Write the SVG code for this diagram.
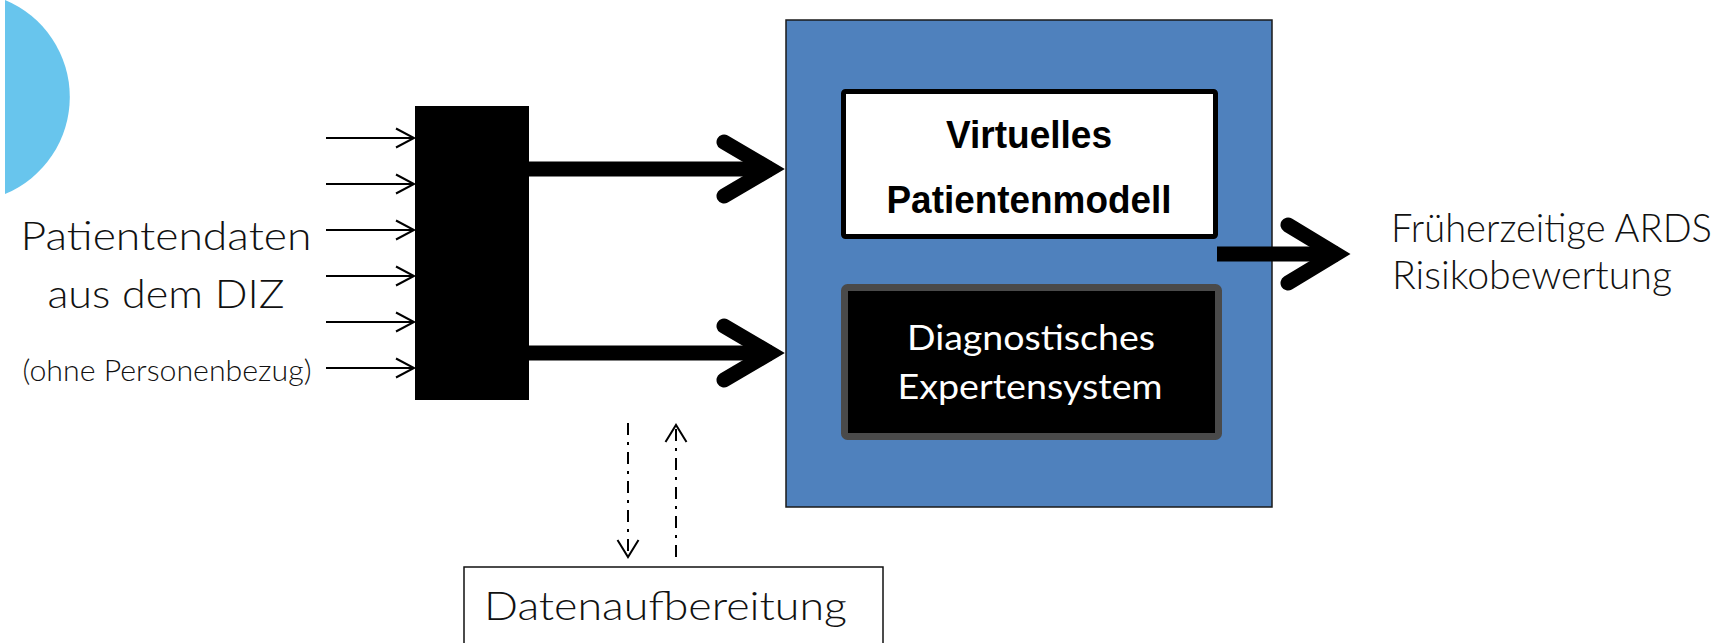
<svg xmlns="http://www.w3.org/2000/svg" width="1732" height="643" viewBox="0 0 1732 643">
<defs>
<style>
.light{font-family:Lato,"Open Sans","Liberation Sans",sans-serif;font-weight:300;fill:#111}
.reg{font-family:Lato,"Open Sans","Liberation Sans",sans-serif;font-weight:400;fill:#fff}
.bold{font-family:"Liberation Sans",Arial,sans-serif;font-weight:700;fill:#000}
.thin{stroke:#000;stroke-width:2;fill:none}
.thick{stroke:#000;stroke-width:15;fill:none}
.chev{stroke:#000;stroke-width:15;fill:none;stroke-linecap:round;stroke-linejoin:miter;stroke-miterlimit:6}
.dash{stroke:#000;stroke-width:2;fill:none;stroke-dasharray:12 7 3 7}
</style>
<marker id="open" markerUnits="userSpaceOnUse" markerWidth="24" markerHeight="24" viewBox="-20 -12 24 24" refX="0" refY="0" orient="auto">
<path d="M -18 -9.5 L 0 0 L -18 9.5" fill="none" stroke="#000" stroke-width="2"/>
</marker>
<marker id="open2" markerUnits="userSpaceOnUse" markerWidth="24" markerHeight="26" viewBox="-20 -13 24 26" refX="0" refY="0" orient="auto">
<path d="M -17 -10.5 L 0 0 L -17 10.5" fill="none" stroke="#000" stroke-width="2"/>
</marker>
</defs>
<rect width="1732" height="643" fill="#fff"/>

<g id="decor-circle">
<path d="M 5 0 A 105 105 0 0 1 5 194 Z" fill="#68C5ED"/>
</g>

<g id="input-label">
<text class="light" x="166" y="250" font-size="40" text-anchor="middle" textLength="291" lengthAdjust="spacingAndGlyphs">Patientendaten</text>
<text class="light" x="166" y="308" font-size="40" text-anchor="middle" textLength="237" lengthAdjust="spacingAndGlyphs">aus dem DIZ</text>
<text class="light" x="167" y="381" font-size="29" text-anchor="middle" textLength="289" lengthAdjust="spacingAndGlyphs">(ohne Personenbezug)</text>
</g>

<g id="collector">
<rect x="415" y="106" width="114" height="294" fill="#000"/>
</g>

<g id="system">
<rect x="786" y="20" width="486" height="487" fill="#4F81BD" stroke="#1a1a1a" stroke-width="1.5"/>
</g>

<g id="patientenmodell">
<rect x="843.5" y="91.5" width="372" height="145" rx="2" fill="#fff" stroke="#000" stroke-width="5"/>
<text class="bold" x="1029" y="148" font-size="38" text-anchor="middle" textLength="166" lengthAdjust="spacingAndGlyphs">Virtuelles</text>
<text class="bold" x="1029" y="213" font-size="38" text-anchor="middle" textLength="285" lengthAdjust="spacingAndGlyphs">Patientenmodell</text>
</g>

<g id="expertensystem">
<rect x="844.5" y="287.5" width="374" height="149" rx="3" fill="#000" stroke="#4A4A4A" stroke-width="7"/>
<text class="reg" x="1031" y="350" font-size="34" text-anchor="middle" textLength="248" lengthAdjust="spacingAndGlyphs">Diagnostisches</text>
<text class="reg" x="1030" y="399" font-size="34" text-anchor="middle" textLength="265" lengthAdjust="spacingAndGlyphs">Expertensystem</text>
</g>

<g id="output-label">
<text class="light" x="1391" y="242" font-size="40" textLength="321" lengthAdjust="spacingAndGlyphs">Früherzeitige ARDS</text>
<text class="light" x="1392" y="289" font-size="40" textLength="280" lengthAdjust="spacingAndGlyphs">Risikobewertung</text>
</g>

<g id="datenaufbereitung">
<rect x="464" y="567" width="419" height="100" fill="#fff" stroke="#111" stroke-width="1.5"/>
<text class="light" x="484" y="620" font-size="40" textLength="363" lengthAdjust="spacingAndGlyphs">Datenaufbereitung</text>
</g>

<g id="connectors">
<line class="thin" x1="326" y1="138" x2="414" y2="138" marker-end="url(#open)"/>
<line class="thin" x1="326" y1="184" x2="414" y2="184" marker-end="url(#open)"/>
<line class="thin" x1="326" y1="230" x2="414" y2="230" marker-end="url(#open)"/>
<line class="thin" x1="326" y1="276" x2="414" y2="276" marker-end="url(#open)"/>
<line class="thin" x1="326" y1="322" x2="414" y2="322" marker-end="url(#open)"/>
<line class="thin" x1="326" y1="368" x2="414" y2="368" marker-end="url(#open)"/>

<line class="thick" x1="529" y1="169" x2="772" y2="169"/>
<polyline class="chev" points="724,142 770,169 724,196"/>
<line class="thick" x1="529" y1="353" x2="772" y2="353"/>
<polyline class="chev" points="724,326 770,353 724,380"/>

<line class="thick" x1="1217" y1="254" x2="1338" y2="254"/>
<polyline class="chev" points="1288,225 1336,254 1288,283"/>

<line class="dash" x1="628" y1="423" x2="628" y2="557" marker-end="url(#open2)"/>
<line class="dash" x1="676" y1="557" x2="676" y2="425" marker-end="url(#open2)"/>
</g>
</svg>
